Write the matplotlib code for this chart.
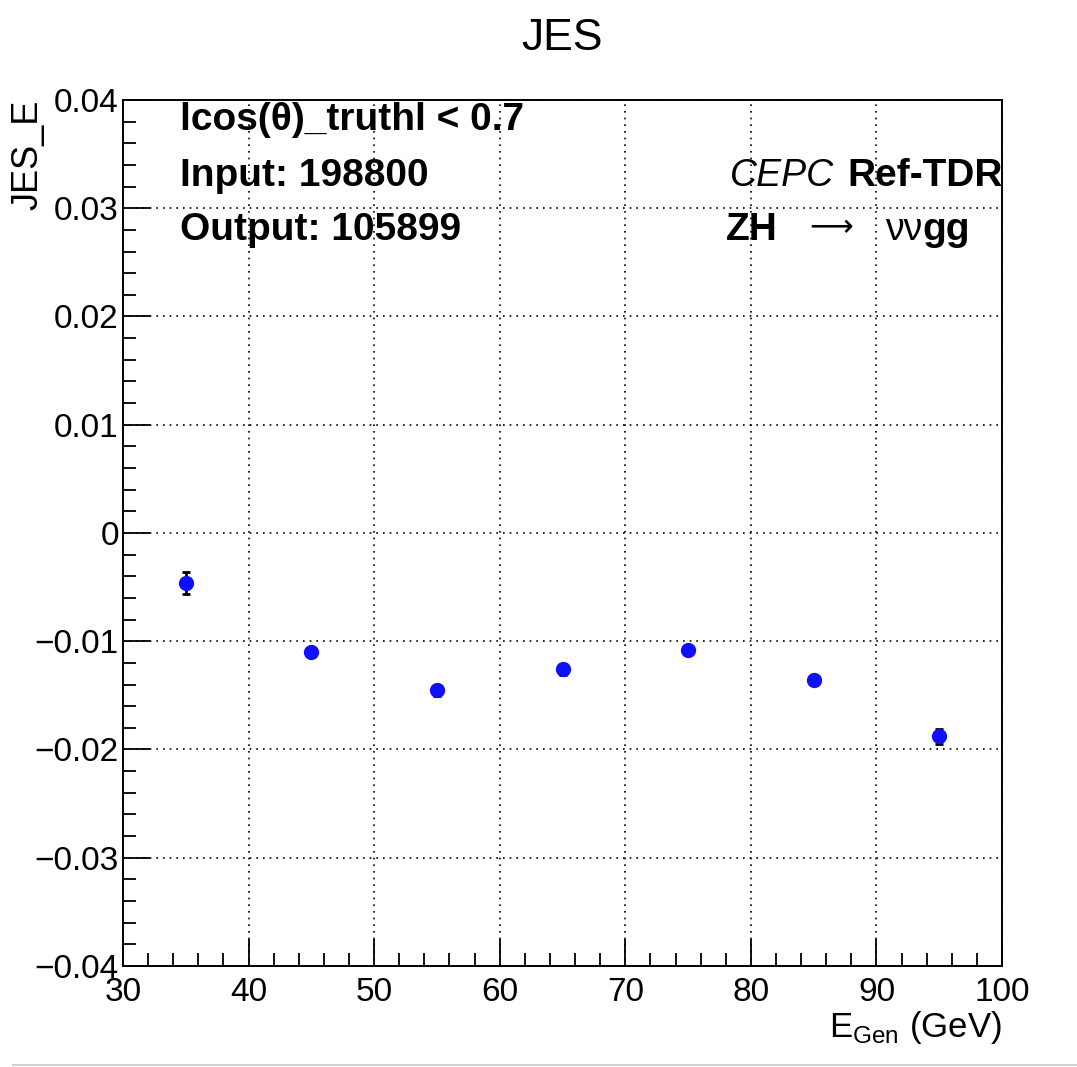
import matplotlib
matplotlib.use("Agg")
import matplotlib.pyplot as plt
from matplotlib.ticker import MultipleLocator

plt.rcParams['font.family'] = ['Liberation Sans', 'DejaVu Sans']

# data
e_gen = [35, 45, 55, 65, 75, 85, 95]
jes = [-0.00465, -0.01100, -0.01455, -0.01260, -0.01080, -0.01360, -0.01880]
jes_err = [0.00100, 0.00045, 0.00050, 0.00050, 0.00045, 0.00045, 0.00065]

xticks = [30, 40, 50, 60, 70, 80, 90, 100]
yticks = [-0.04, -0.03, -0.02, -0.01, 0, 0.01, 0.02, 0.03, 0.04]
ytick_labels = ['\u22120.04', '\u22120.03', '\u22120.02', '\u22120.01', '0',
                '0.01', '0.02', '0.03', '0.04']

fig = plt.figure(figsize=(10.77, 10.67), dpi=100)
ax = fig.add_axes([0.1142, 0.0947, 0.8162, 0.8116])

ax.errorbar(e_gen, jes, yerr=jes_err, fmt='o', color='#1010ff', ms=10,
            ecolor='black', elinewidth=2, capsize=3, capthick=2, zorder=3)

ax.set_xlim(30, 100)
ax.set_ylim(-0.04, 0.04)
ax.set_xticks(xticks)
ax.set_yticks(yticks)
ax.set_yticklabels(ytick_labels)
ax.xaxis.set_minor_locator(MultipleLocator(2))
ax.yaxis.set_minor_locator(MultipleLocator(0.002))
ax.tick_params(which='both', direction='in', top=False, right=False,
               labelsize=24, width=1.3)
ax.tick_params(which='major', length=19.5)
ax.tick_params(which='minor', length=9.5)
ax.tick_params(axis='x', pad=8)
ax.tick_params(axis='y', pad=3)
ax.grid(True, which='major', linestyle=(0, (1, 3)), color='black', linewidth=1.2)
for s in ax.spines.values():
    s.set_linewidth(1.4)

ax.set_title('JES', fontsize=32, pad=36)
ax.set_ylabel('JES_E', fontsize=26, loc='top', labelpad=-8)
ax.set_xlabel('E$_{\\mathregular{Gen}}$ (GeV)', fontsize=25, loc='right', labelpad=1)

rows = [0.9654, 0.9007, 0.8383]
ax.text(0.0648, rows[0], 'lcos(\u03b8)_truthl < 0.7', transform=ax.transAxes,
        fontsize=28, fontweight='bold', va='baseline', ha='left')
ax.text(0.0648, rows[1], 'Input: 198800', transform=ax.transAxes,
        fontsize=28, fontweight='bold', va='baseline', ha='left')
ax.text(0.0648, rows[2], 'Output: 105899', transform=ax.transAxes,
        fontsize=28, fontweight='bold', va='baseline', ha='left')

ax.text(0.6906, rows[1], 'CEPC', transform=ax.transAxes, fontsize=27,
        style='italic', va='baseline', ha='left')
ax.text(0.8237, rows[1], 'Ref-TDR', transform=ax.transAxes, fontsize=28,
        fontweight='bold', va='baseline', ha='left')
ax.text(0.686, rows[2], 'ZH', transform=ax.transAxes, fontsize=28,
        fontweight='bold', va='baseline', ha='left')
ax.text(0.781, rows[2] + 0.004, '\u27f6', transform=ax.transAxes, fontsize=22,
        va='baseline', ha='left', family='DejaVu Sans')
ax.text(0.8669, rows[2], '\u03bd\u03bd', transform=ax.transAxes, fontsize=27,
        va='baseline', ha='left')
ax.text(0.909, rows[2], 'gg', transform=ax.transAxes, fontsize=28,
        fontweight='bold', va='baseline', ha='left')

# thin separator line at the bottom of the screenshot
fig.add_artist(plt.Line2D([0.012, 1], [0.002, 0.002], color='#d0d0d0', linewidth=1.5))

fig.savefig('out.png', dpi=100, facecolor='white')
